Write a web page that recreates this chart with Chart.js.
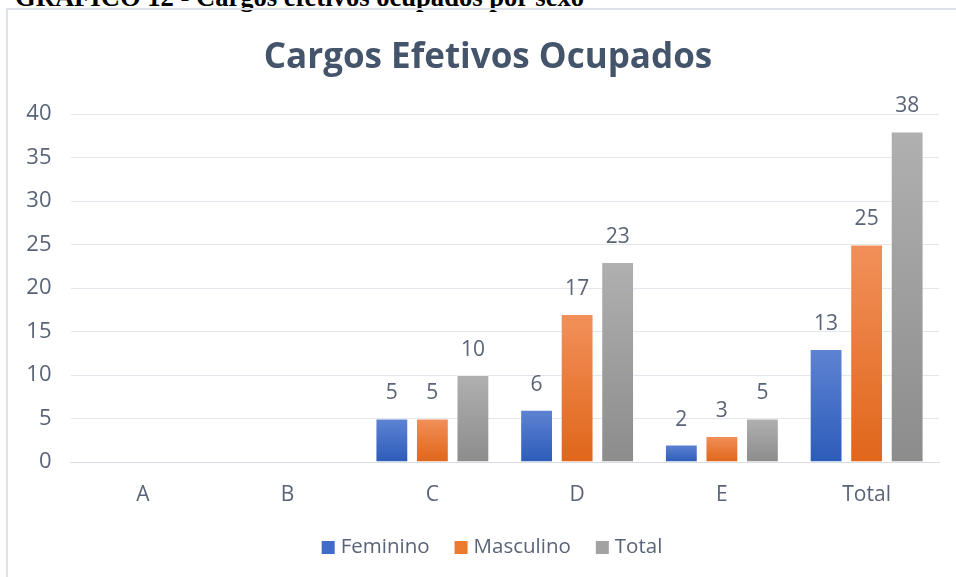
<!DOCTYPE html>
<html>
<head>
<meta charset="utf-8">
<script src="https://cdn.jsdelivr.net/npm/chart.js@4.4.1/dist/chart.umd.min.js"></script>
<style>
  html, body { margin: 0; padding: 0; background: #fff; overflow: hidden; }
  #wrap { position: relative; width: 956px; height: 577px; }
  #caption { position: absolute; left: 15px; top: -16px; font: bold 26.6px "Liberation Serif", "Times New Roman", serif; color: #000; white-space: nowrap; line-height: 27px; }
  #frame { position: absolute; left: 6px; top: 8px; width: 960px; height: 600px; border-left: 2px solid #DCE1EA; border-top: 2px solid #DCE1EA; }
  canvas { position: absolute; left: 0; top: 0; }
</style>
</head>
<body>
<div id="wrap">
  <div id="caption">GRÁFICO 12 - Cargos efetivos ocupados por sexo</div>
  <div id="frame"></div>
  <canvas id="c" width="956" height="577"></canvas>
</div>
<script>
const categories = ["A", "B", "C", "D", "E", "Total"];
const feminino = [null, null, 5, 6, 2, 13];
const masculino = [null, null, 5, 17, 3, 25];
const total = [null, null, 10, 23, 5, 38];
const yTicks = [0, 5, 10, 15, 20, 25, 30, 35, 40];
const chartTitle = 'Cargos Efetivos Ocupados';

const FONT = "'Open Sans', Lato, sans-serif";
const TEXT = "#5A6477";

function grad(top, bottom, solid) {
  return function (ctx) {
    if (ctx.type !== 'data') return solid;
    const chart = ctx.chart;
    const ys = chart.scales.y;
    if (!ys || !chart.chartArea) return solid;
    const v = ctx.raw;
    if (v == null) return solid;
    const y0 = ys.getPixelForValue(v);
    const y1 = ys.getPixelForValue(0);
    if (!isFinite(y0) || !isFinite(y1) || y0 === y1) return solid;
    const g = chart.ctx.createLinearGradient(0, y0, 0, y1);
    g.addColorStop(0, top);
    g.addColorStop(1, bottom);
    return g;
  };
}

const valueLabels = {
  id: 'valueLabels',
  afterDatasetsDraw(chart) {
    const c = chart.ctx;
    c.save();
    c.font = "21px " + FONT;
    c.fillStyle = TEXT;
    c.textAlign = 'center';
    c.textBaseline = 'middle';
    chart.data.datasets.forEach((ds, i) => {
      const meta = chart.getDatasetMeta(i);
      meta.data.forEach((bar, j) => {
        const v = ds.data[j];
        if (v == null) return;
        c.fillText(String(v), bar.x, bar.y - 25);
      });
    });
    c.restore();
  }
};

// Title and legend drawn centred on the chart frame (which is offset from the canvas)
const frameDecor = {
  id: 'frameDecor',
  afterDraw(chart) {
    const c = chart.ctx;
    const cx = 488;
    c.save();
    c.fillStyle = '#44546A';
    c.font = "bold 35px " + FONT;
    c.textAlign = 'center';
    c.textBaseline = 'alphabetic';
    c.fillText(chartTitle, cx, 68);

    c.font = "20.5px " + FONT;
    c.textAlign = 'left';
    const box = 13, gapText = 6, gapItem = 25;
    const items = chart.data.datasets.map(ds => ({ label: ds.label, color: ds.legendColor }));
    let totalW = 0;
    items.forEach((it, i) => {
      it.w = c.measureText(it.label).width;
      totalW += box + gapText + it.w + (i < items.length - 1 ? gapItem : 0);
    });
    let x = cx + 4 - totalW / 2;
    const base = 553;
    items.forEach(it => {
      c.fillStyle = it.color;
      c.fillRect(x, base - 12, box, box);
      x += box + gapText;
      c.fillStyle = TEXT;
      c.fillText(it.label, x, base);
      x += it.w + gapItem;
    });
    c.restore();
  }
};

new Chart(document.getElementById('c'), {
  type: 'bar',
  data: {
    labels: categories,
    datasets: [
      { label: 'Feminino', legendColor: '#3F6CC8', data: feminino, backgroundColor: grad('#5E83D3', '#2C5CB9', '#3A68C4'), borderColor: 'rgba(255,255,255,0.35)', borderWidth: 1 },
      { label: 'Masculino', legendColor: '#EE7A30', data: masculino, backgroundColor: grad('#F2905A', '#E0661A', '#EE7A2E'), borderColor: 'rgba(255,255,255,0.35)', borderWidth: 1 },
      { label: 'Total', legendColor: '#A2A2A2', data: total, backgroundColor: grad('#B0B0B0', '#8C8C8C', '#A0A0A0'), borderColor: 'rgba(255,255,255,0.35)', borderWidth: 1 }
    ]
  },
  options: {
    responsive: false,
    animation: false,
    maintainAspectRatio: false,
    layout: { padding: { left: 8, right: 17, top: 114, bottom: 62 } },
    datasets: { bar: { categoryPercentage: 0.84, barPercentage: 0.81 } },
    plugins: {
      title: { display: false },
      legend: { display: false },
      tooltip: { enabled: false }
    },
    scales: {
      x: {
        grid: { display: false, drawTicks: false },
        border: { display: true, color: '#D9DCE3', width: 1 },
        ticks: { color: TEXT, font: { family: FONT, size: 21 }, padding: 20 },
        afterFit(s) { s.height = 53; }
      },
      y: {
        min: 0, max: 40,
        afterBuildTicks(s) { s.ticks = yTicks.map(v => ({ value: v })); },
        grid: { color: '#E3E6EC', drawTicks: false },
        border: { display: false },
        ticks: { color: TEXT, font: { family: FONT, size: 22 }, padding: 19 },
        afterFit(s) { s.width = 62.5; }
      }
    }
  },
  plugins: [valueLabels, frameDecor]
});
</script>
</body>
</html>
